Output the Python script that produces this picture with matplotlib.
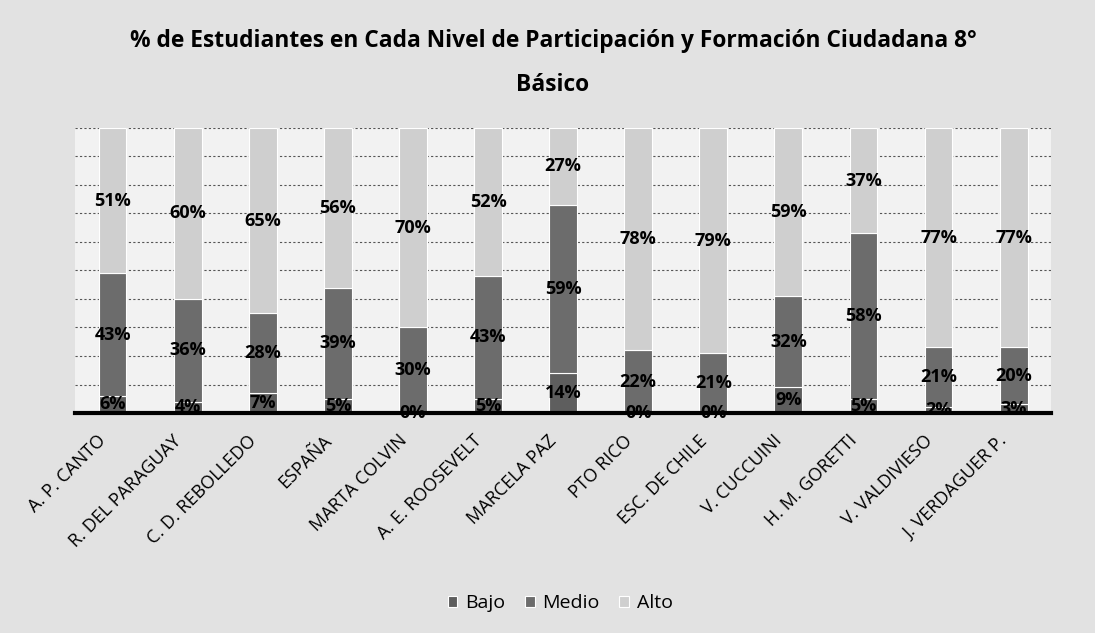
import matplotlib.pyplot as plt
import matplotlib.transforms as mtransforms
import numpy as np

escuelas = ["A. P. CANTO", "R. DEL PARAGUAY", "C. D. REBOLLEDO", "ESPAÑA",
            "MARTA COLVIN", "A. E. ROOSEVELT", "MARCELA PAZ", "PTO RICO",
            "ESC. DE CHILE", "V. CUCCUINI", "H. M. GORETTI", "V. VALDIVIESO",
            "J. VERDAGUER P."]
bajo = [6, 4, 7, 5, 0, 5, 14, 0, 0, 9, 5, 2, 3]
medio = [43, 36, 28, 39, 30, 43, 59, 22, 21, 32, 58, 21, 20]
alto = [51, 60, 65, 56, 70, 52, 27, 78, 79, 59, 37, 77, 77]

series = [("Bajo", bajo, "#5e5e5e"), ("Medio", medio, "#6c6c6c"),
          ("Alto", alto, "#cfcfcf")]

plt.rcParams["font.family"] = ["Open Sans", "DejaVu Sans"]

fig = plt.figure(figsize=(10.95, 6.33), dpi=100, facecolor="#e2e2e2")
ax = fig.add_axes([0.0685, 0.3475, 0.8915, 0.4505])
ax.set_facecolor("#f2f2f2")

x = np.arange(len(escuelas))
base = np.zeros(len(escuelas))
for name, vals, color in series:
    vals = np.array(vals) / 100
    ax.bar(x, vals, 0.37, bottom=base, color=color, edgecolor="white",
           linewidth=0.8, label=name, zorder=3)
    for xi, b, v in zip(x, base, vals):
        ax.text(xi, b + v / 2, f"{v * 100:.0f}%", ha="center", va="center",
                fontsize=13, fontweight="bold", color="black", zorder=4)
    base += vals

ax.set_xlim(-0.5, len(escuelas) - 0.5)
ax.set_ylim(0, 1)
ax.set_yticks(np.arange(0.1, 1.01, 0.1))
ax.yaxis.grid(True, linestyle=(0, (2, 2)), color="#555555", linewidth=0.8)
ax.tick_params(axis="y", left=False, labelleft=False)
ax.tick_params(axis="x", length=0, pad=18)
for s in ["top", "right", "left"]:
    ax.spines[s].set_visible(False)
ax.spines["bottom"].set_linewidth(3)
ax.spines["bottom"].set_zorder(5)

ax.set_xticks(x)
ax.set_xticklabels(escuelas, rotation=45, ha="right", va="center",
                   rotation_mode="anchor", fontsize=13)
shift = mtransforms.ScaledTranslation(-9 / 100, 0, fig.dpi_scale_trans)
for lbl in ax.get_xticklabels():
    lbl.set_transform(lbl.get_transform() + shift)

fig.text(0.505, 0.9, "% de Estudiantes en Cada Nivel de Participación y "
         "Formación Ciudadana 8°\nBásico", ha="center", va="center",
         fontsize=16.4, fontweight="bold", linespacing=2.1)

ax.legend(loc="center", bbox_to_anchor=(0.497, -0.667), ncol=3, frameon=False,
          fontsize=14, handlelength=0.5, handleheight=0.5, handletextpad=0.4,
          columnspacing=1.0)

fig.savefig("out.png", dpi=100, facecolor=fig.get_facecolor())
